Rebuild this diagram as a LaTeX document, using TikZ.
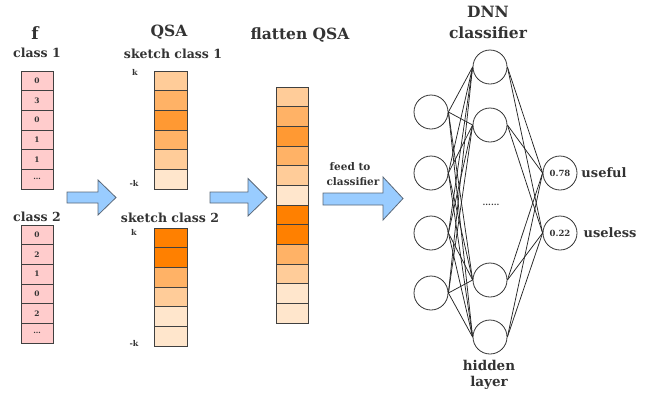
\documentclass[tikz,border=0pt]{standalone}
\usepackage{fontspec}
\setmainfont{DejaVu Serif}
\definecolor{oA}{HTML}{FFE6CC}
\definecolor{oB}{HTML}{FFCC99}
\definecolor{oC}{HTML}{FFB266}
\definecolor{oD}{HTML}{FF9933}
\definecolor{oE}{HTML}{FF8000}
\definecolor{pk}{HTML}{FFCCCC}
\definecolor{ab}{HTML}{99CCFF}
\definecolor{abd}{HTML}{5A6878}
\definecolor{tx}{HTML}{333333}
\begin{document}
\begin{tikzpicture}[x=1pt,y=-1pt,
  cell/.style={draw=black!75,line width=0.9pt,minimum width=32pt,minimum height=19.67pt,inner sep=0pt,
     font=\fontsize{7.5}{8}\selectfont\bfseries,text=tx},
  pcell/.style={cell,fill=pk},
  title/.style={font=\fontsize{15.5}{17}\selectfont\bfseries,text=tx,inner sep=0pt},
  sub/.style={font=\fontsize{12.5}{14}\selectfont\bfseries,text=tx,inner sep=0pt},
  klab/.style={font=\fontsize{8}{9}\selectfont\bfseries,text=tx,inner sep=0pt},
  neuron/.style={draw=black!80,circle,line width=0.8pt,minimum size=34pt,inner sep=0pt,
     font=\fontsize{8.5}{9}\selectfont\bfseries,text=tx},
  blockarrow/.style={fill=ab,draw=abd,line width=0.8pt,line join=miter},
  link/.style={draw=black!85,line width=0.75pt}]
\useasboundingbox (0,0) rectangle (663,392);
% f columns
\node[title,font=\fontsize{17}{18}\selectfont\bfseries] (ftitle) at (35,33) {f};
\node[sub] (fc1) at (37,53) {class 1};
\node[sub] (fc2) at (37,217) {class 2};
\foreach \v [count=\i] in {0,3,0,1,1,\ldots}
  \node[pcell] (fa\i) at (37,{71+9.83+(\i-1)*19.67}) {\v};
\foreach \v [count=\i] in {0,2,1,0,2,\ldots}
  \node[pcell] (fb\i) at (37,{225+9.83+(\i-1)*19.67}) {\v};
% QSA columns
\node[title] (qtitle) at (169,32) {QSA};
\node[sub] (qs1) at (173,54) {sketch class 1};
\node[sub] (qs2) at (170,218) {sketch class 2};
\foreach \c [count=\i] in {oB,oC,oD,oC,oB,oA}
  \node[cell,fill=\c,minimum width=33pt] (qa\i) at (170.5,{71+9.83+(\i-1)*19.67}) {};
\foreach \c [count=\i] in {oE,oE,oC,oB,oA,oA}
  \node[cell,fill=\c,minimum width=33pt] (qb\i) at (170.5,{228+9.83+(\i-1)*19.67}) {};
\node[klab] (k1) at (135,72) {k};
\node[klab] (mk1) at (134,183) {-k};
\node[klab] (k2) at (134,232) {k};
\node[klab] (mk2) at (134,343) {-k};
% flatten
\node[title] (fltitle) at (300,35) {flatten QSA};
\foreach \c [count=\i] in {oB,oC,oD,oC,oB,oA,oE,oE,oC,oB,oA,oA}
  \node[cell,fill=\c] (fl\i) at (292,{87+9.83+(\i-1)*19.67}) {};
% block arrows
\draw[blockarrow] (67,192) -- (98,192) -- (98,180) -- (116,197.5) -- (98,215) -- (98,203) -- (67,203) -- cycle;
\draw[blockarrow] (210,192) -- (248,192) -- (248,178.5) -- (267,197.5) -- (248,216) -- (248,203) -- (210,203) -- cycle;
\draw[blockarrow] (323,193) -- (383,193) -- (383,177) -- (403,198.5) -- (383,220) -- (383,205) -- (323,205) -- cycle;
\node[sub,font=\fontsize{10.5}{12}\selectfont\bfseries] (feed) at (350,167) {feed to};
\node[sub,font=\fontsize{10.5}{12}\selectfont\bfseries] (cls) at (353,182) {classifier};
% DNN
\node[title] (dnn) at (488,12) {DNN};
\node[title] (dnn2) at (488,33) {classifier};
\foreach \y [count=\i] in {112,173,233,293}
  \node[neuron] (in\i) at (431,\y) {};
\foreach \y [count=\i] in {67,125,280,337}
  \node[neuron] (h\i) at (490,\y) {};
\node[neuron] (out1) at (560,173) {0.78};
\node[neuron] (out2) at (560,233) {0.22};
\foreach \i in {1,...,4}
  \foreach \j in {1,...,4}
    \draw[link] (in\i.east) -- (h\j.west);
\foreach \j in {1,...,4}
  \foreach \k in {1,2}
    \draw[link] (h\j.east) -- (out\k.west);
\node[klab] (dots) at (491,205) {......};
\node[sub,font=\fontsize{13}{14}\selectfont\bfseries] (useful) at (604,173) {useful};
\node[sub,font=\fontsize{13}{14}\selectfont\bfseries] (useless) at (610,233) {useless};
\node[sub,font=\fontsize{13.5}{14}\selectfont\bfseries] (hid) at (489,365) {hidden};
\node[sub,font=\fontsize{13.5}{14}\selectfont\bfseries] (lay) at (489,383) {layer};
\end{tikzpicture}
\end{document}
